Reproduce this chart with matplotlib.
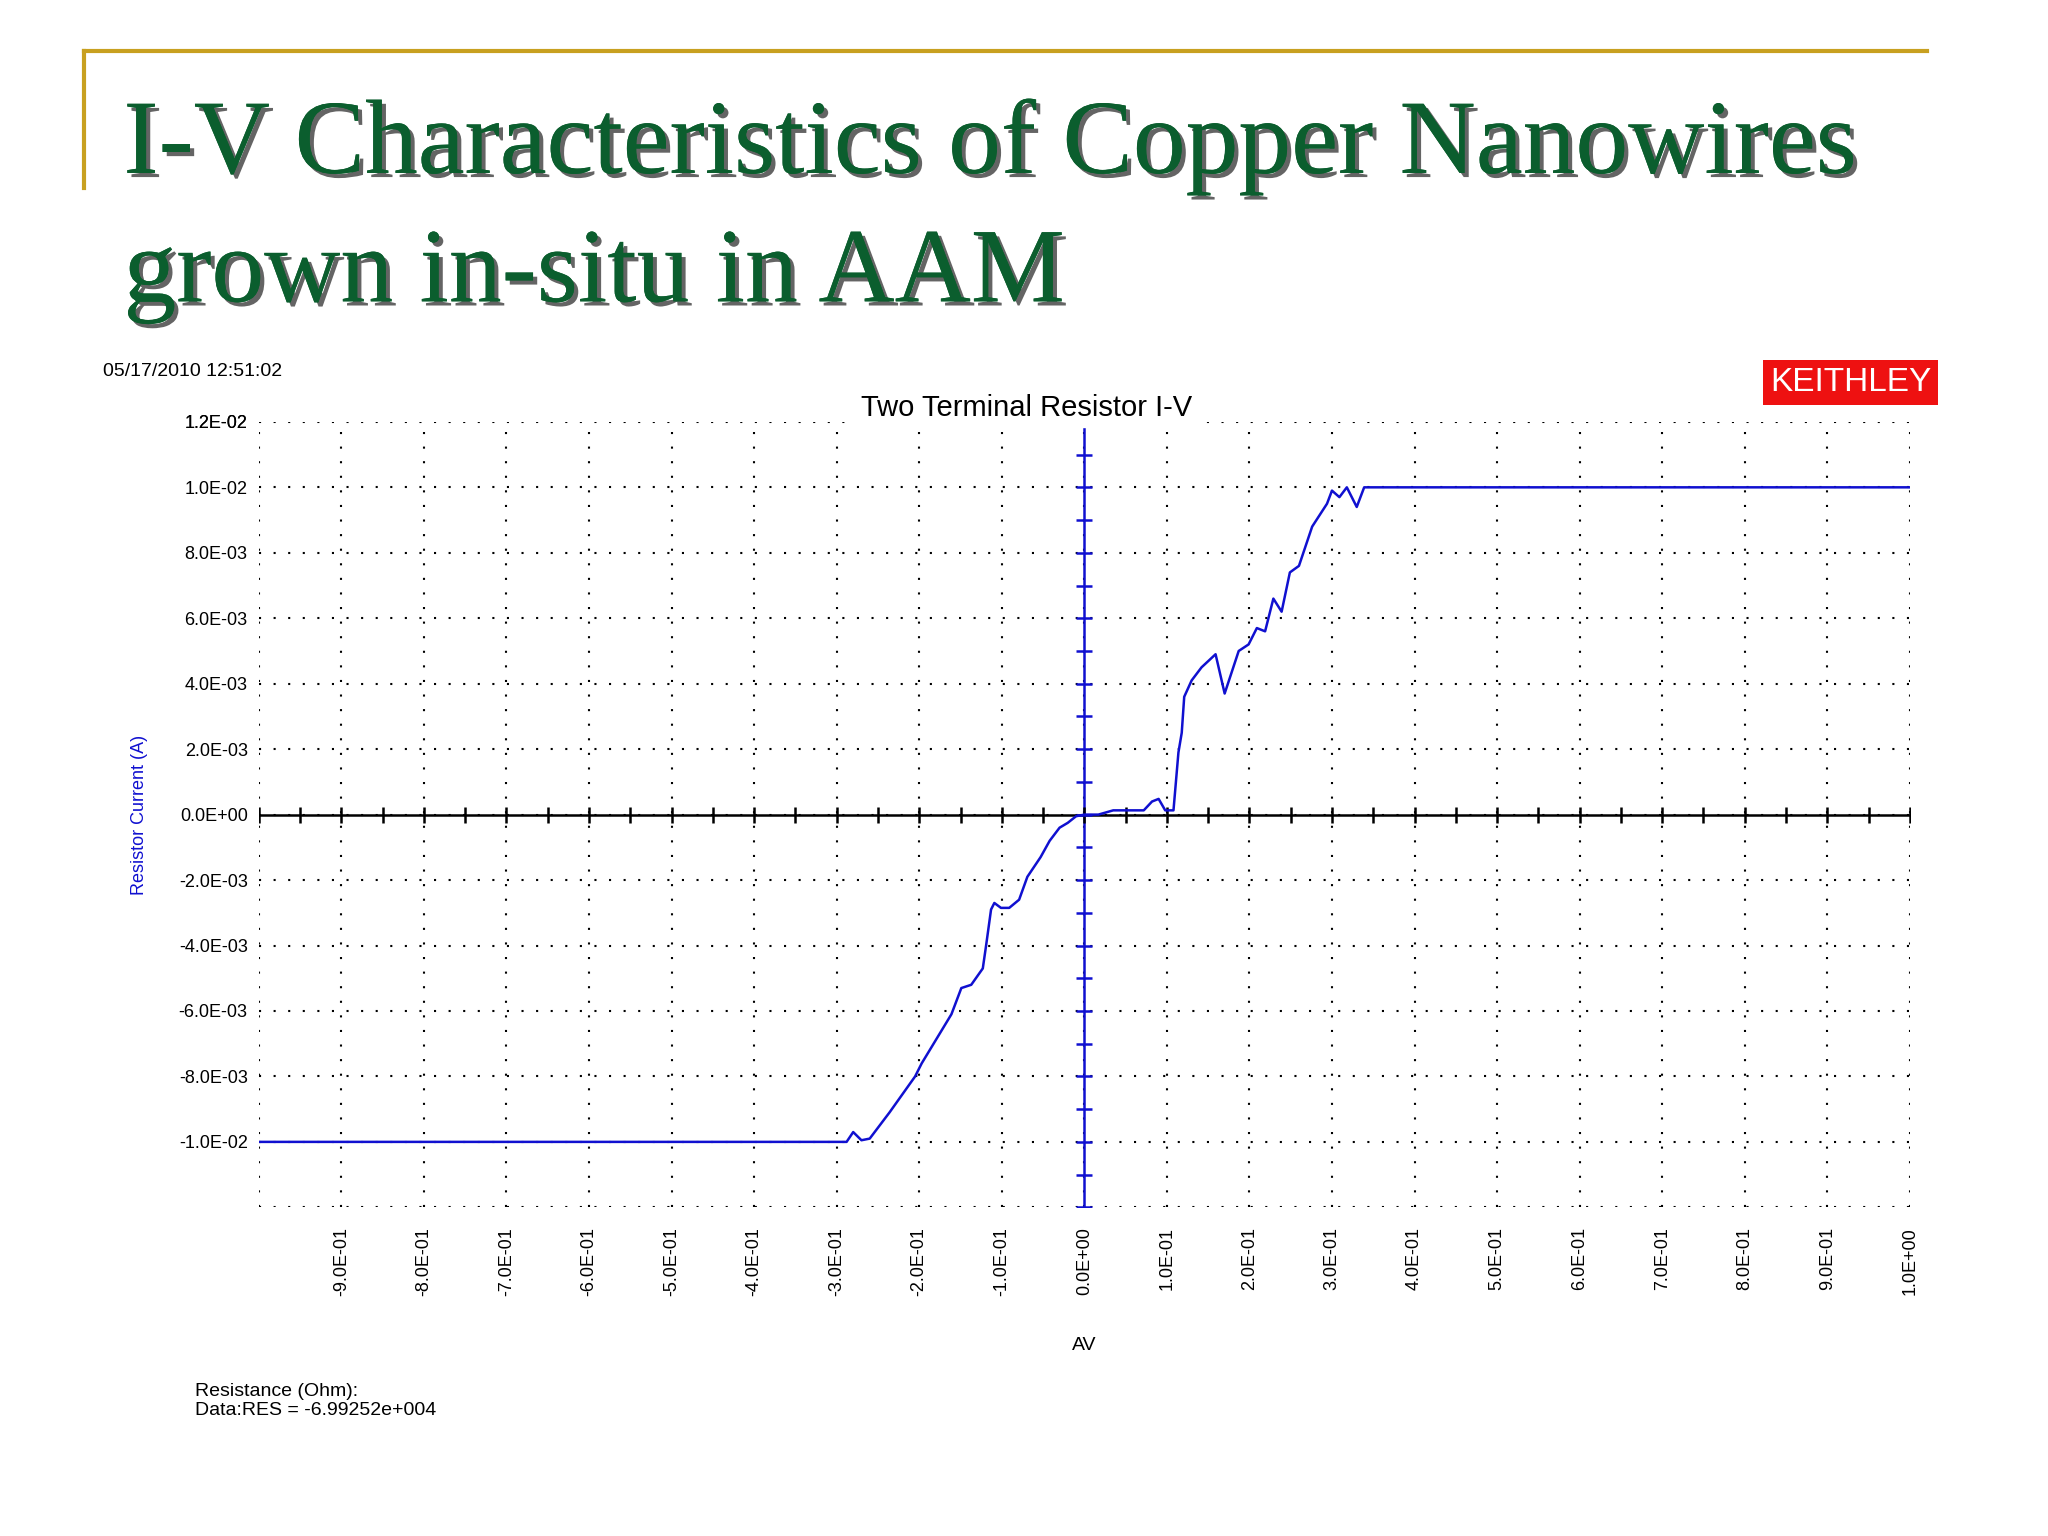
import matplotlib
matplotlib.use("Agg")
import matplotlib.pyplot as plt
import matplotlib.patheffects as pe
import numpy as np

voltage = [-1.0, -0.288, -0.28, -0.27, -0.26, -0.236, -0.205, -0.197, -0.179, -0.161, -0.149, -0.137,
           -0.123, -0.119, -0.113, -0.109, -0.101, -0.091, -0.079, -0.069, -0.053, -0.042, -0.030,
           -0.020, -0.010, 0.0, 0.017, 0.035, 0.072, 0.082, 0.090, 0.098, 0.108, 0.114, 0.118, 0.121,
           0.130, 0.142, 0.159, 0.170, 0.187, 0.199, 0.209, 0.219, 0.229, 0.239, 0.249, 0.260, 0.276,
           0.294, 0.300, 0.309, 0.318, 0.330, 0.339, 0.352, 1.0]
current = [-0.0100, -0.0100, -0.0097, -0.00995, -0.0099, -0.0091, -0.0080, -0.0076, -0.00685, -0.0061,
           -0.0053, -0.0052, -0.0047, -0.0040, -0.0029, -0.0027, -0.00285, -0.00285, -0.0026, -0.0019,
           -0.0013, -0.0008, -0.0004, -0.00025, -0.00005, 0.0, 0.0, 0.00013, 0.00013, 0.0004, 0.00048,
           0.00013, 0.00013, 0.0019, 0.0025, 0.0036, 0.0041, 0.0045, 0.0049, 0.0037, 0.0050, 0.0052,
           0.0057, 0.0056, 0.0066, 0.0062, 0.0074, 0.0076, 0.0088, 0.0095, 0.0099, 0.0097, 0.0100,
           0.0094, 0.0100, 0.0100, 0.0100]
x_ticks = [round(-0.9 + 0.1 * i, 1) for i in range(20)]
y_ticks = [round(-0.010 + 0.002 * i, 3) for i in range(12)]

plt.rcParams['font.family'] = ['Liberation Sans', 'DejaVu Sans']
fig = plt.figure(figsize=(20.48, 15.36), dpi=100)
W, H = 2048, 1536
S = 0.988

def fx(p):
    return p * S / W

def fy(p):
    return 1 - p * S / H

# slide decoration
fig.add_artist(plt.Line2D([fx(85), fx(1950)], [fy(52), fy(52)], color='#C8A020', lw=3))
fig.add_artist(plt.Line2D([fx(85), fx(85)], [fy(52), fy(190)], color='#C8A020', lw=3))
green = '#0B5E2E'
shadow = [pe.withSimplePatchShadow(offset=(3, -3), shadow_rgbFace='#222222', alpha=0.7), pe.Normal()]
fig.text(fx(125), fy(175), "I-V Characteristics of Copper Nanowires", fontsize=76,
         family='Liberation Serif', color=green, path_effects=shadow)
fig.text(fx(125), fy(305), "grown in-situ in AAM", fontsize=76,
         family='Liberation Serif', color=green, path_effects=shadow)

ax = fig.add_axes([fx(262), fy(1222), fx(1933) - fx(262), fy(427) - fy(1222)])
ax.set_xlim(-1.0, 1.0)
ax.set_ylim(-0.012, 0.012)
for s in ax.spines.values():
    s.set_visible(False)
for xv in np.arange(-1.0, 1.001, 0.1):
    ax.axvline(xv, color='black', ls=(0, (1, 6)), lw=1.5)
for yv in np.arange(-0.012, 0.0121, 0.002):
    ax.axhline(yv, color='black', ls=(0, (1, 6)), lw=1.5)
ax.axhline(0, color='black', lw=1.8)
ax.axvline(0, color='#1010D0', lw=1.8)
mx = np.arange(-1.0, 1.001, 0.05)
ax.plot(mx, np.zeros_like(mx), ls='none', marker='|', ms=12, mew=1.8, color='black')
my = np.arange(-0.012, 0.0121, 0.001)
ax.plot(np.zeros_like(my), my, ls='none', marker='_', ms=12, mew=1.8, color='#1010D0')
ax.plot(voltage, current, color='#1010D0', lw=1.8, zorder=5)

ax.set_xticks(x_ticks)
ax.set_xticklabels([f"{v:.1E}" for v in x_ticks], rotation=90, fontsize=13)
ax.set_yticks(y_ticks + [0.012])
ax.set_yticklabels([f"{v:.1E}" for v in y_ticks] + ["1.2E-02"], fontsize=13)
ax.tick_params(length=0, pad=8)
ax.tick_params(axis='x', pad=14)
ax.set_xlabel("AV", fontsize=14, labelpad=30)
ax.set_ylabel("Resistor Current (A)", fontsize=13, color='#1010D0', labelpad=22)
ax.text(0.465, 1.0, "Two Terminal Resistor I-V", transform=ax.transAxes, ha='center', va='bottom',
        fontsize=21, backgroundcolor='white')

fig.text(fx(104), fy(376), "05/17/2010 12:51:02", fontsize=14, va='center')
fig.text(fx(1873), fy(387), "KEITHLEY", fontsize=24, color='white', ha='center', va='center',
         bbox=dict(boxstyle='square,pad=0.2', fc='#EE1111', ec='none'))
fig.text(fx(197), fy(1418), "Resistance (Ohm):\nData:RES = -6.99252e+004", fontsize=14,
         va='center', linespacing=1.1)

fig.savefig("out.png", dpi=100, facecolor='white')
